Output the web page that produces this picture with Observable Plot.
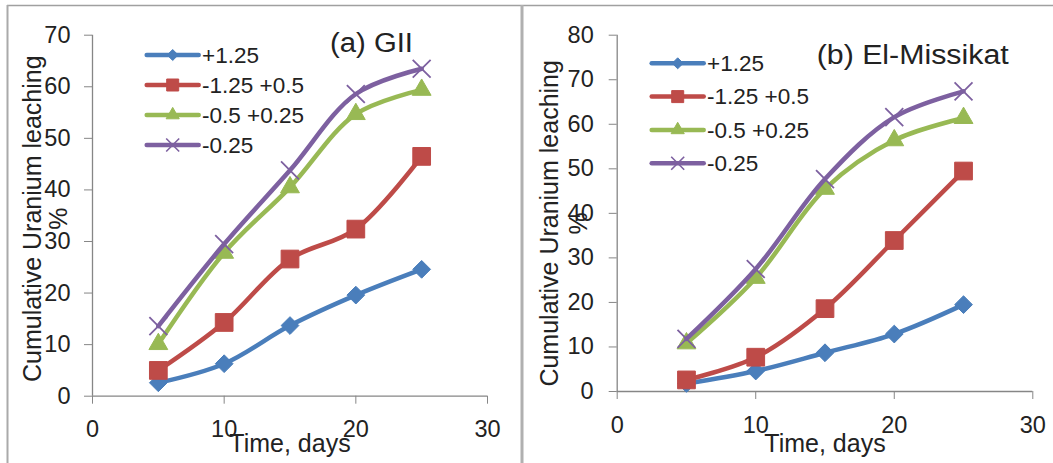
<!DOCTYPE html>
<html><head><meta charset="utf-8">
<script src="https://cdn.jsdelivr.net/npm/d3@7"></script>
<script src="https://cdn.jsdelivr.net/npm/@observablehq/plot@0.6"></script>
<style>
html,body{margin:0;padding:0;background:#fff;}
#root{position:relative;width:1053px;height:463px;overflow:hidden;font-family:"Liberation Sans",Arial,sans-serif;color:#222;background:#fff;}
#root > svg, #root > figure{position:absolute;top:0;margin:0;}
</style></head><body><div id="root"></div>
<script>
// ---- data ----
const days = [5, 10, 15, 20, 25];
const seriesNames = ["+1.25", "-1.25 +0.5", "-0.5 +0.25", "-0.25"];
// (a) GII
const gII_p125    = [2.6, 6.3, 13.7, 19.6, 24.6];
const gII_m125p05 = [5.0, 14.3, 26.6, 32.4, 46.5];
const gII_m05p025 = [10.1, 27.8, 40.5, 54.7, 59.4];
const gII_m025    = [13.6, 29.5, 43.8, 58.6, 63.5];
// (b) El-Missikat
const elm_p125    = [1.8, 4.6, 8.7, 12.9, 19.5];
const elm_m125p05 = [2.6, 7.7, 18.6, 33.9, 49.5];
const elm_m05p025 = [10.8, 25.5, 45.5, 56.4, 61.4];
const elm_m025    = [11.8, 27.5, 47.7, 61.6, 67.4];
const xTicks  = [0, 10, 20, 30];
const yTicksA = [0, 10, 20, 30, 40, 50, 60, 70];
const yTicksB = [0, 10, 20, 30, 40, 50, 60, 70, 80];
const titleA = "(a) GII";
const titleB = "(b) El-Missikat";
const yTitle = "Cumulative Uranium leaching\n%";
const xTitle = "Time, days";

// ---- style ----
const axisColor = "#868686";
const textColor = "#222";
const colors = ["#4A7EBB", "#BE4B48", "#98B954", "#7D60A0"];
const symbols = ["diamond2", "square", "triangle", "times"];
const dotR = [8, 10, 7, 8.2];
const font = "'Liberation Sans', Arial, sans-serif";

const root = document.getElementById("root");

function panel(o) {
  const values = o.values;
  const rows = [];
  seriesNames.forEach((s, i) => values[i].forEach((v, j) => rows.push({series: s, day: days[j], value: v})));
  const marks = [
    Plot.axisY({ticks: o.yTicks, tickSize: 8, tickPadding: o.yPad, stroke: axisColor, fill: textColor, label: null, fontSize: 23.5}),
    Plot.axisX({ticks: xTicks, tickSize: 8, tickPadding: o.xPad, stroke: axisColor, fill: textColor, label: null, fontSize: 23.5}),
    Plot.ruleX([0], {stroke: axisColor, strokeWidth: 1.3}),
    Plot.ruleY([0], {stroke: axisColor, strokeWidth: 1.3}),
    Plot.text([yTitle], {frameAnchor: "left", textAnchor: "middle", lineAnchor: "middle", rotate: -90, text: d => d, dx: o.ylDx, dy: o.ylDy, lineHeight: o.ylLH, fontSize: 25, fill: textColor}),
    Plot.text([xTitle], {frameAnchor: "bottom", textAnchor: "middle", text: d => d, dy: o.xlDy, fontSize: 25, fill: textColor})
  ];
  seriesNames.forEach((s, i) => {
    const d = rows.filter(r => r.series === s);
    marks.push(Plot.line(d, {x: "day", y: "value", stroke: "series", strokeWidth: 4.5, curve: "catmull-rom"}));
    if (symbols[i] === "times") {
      marks.push(Plot.dot(d, {x: "day", y: "value", symbol: symbols[i], r: dotR[i], stroke: "series", fill: "none", strokeWidth: 1.8}));
    } else {
      marks.push(Plot.dot(d, {x: "day", y: "value", symbol: symbols[i], r: dotR[i], stroke: "series", fill: "series", strokeWidth: 1}));
    }
  });
  const svg = Plot.plot({
    width: o.width, height: 463,
    marginLeft: o.ml, marginRight: o.mr, marginTop: o.mt, marginBottom: o.mb,
    x: {domain: [0, 30]},
    y: {domain: [0, o.yTicks[o.yTicks.length - 1]]},
    color: {domain: seriesNames, range: colors},
    style: {fontFamily: font, fontSize: "23.5px", color: textColor, background: "transparent", overflow: "visible"},
    marks
  });
  svg.style.left = o.left + "px";
  root.appendChild(svg);
}

panel({values: [gII_p125, gII_m125p05, gII_m05p025, gII_m025], yTicks: yTicksA,
  left: 0, width: 520, ml: 92, mr: 33, mt: 34.7, mb: 67.3, yPad: 14, xPad: 16,
  ylDx: -47, ylDy: 3, ylLH: 1.04, xlDy: 56});
panel({values: [elm_p125, elm_m125p05, elm_m05p025, elm_m025], yTicks: yTicksB,
  left: 523, width: 530, ml: 93.7, mr: 20.7, mt: 34.7, mb: 72, yPad: 15.5, xPad: 17,
  ylDx: -54, ylDy: 10, ylLH: 1.16, xlDy: 60});

// ---- overlay: frame lines, titles, legends ----
const ov = d3.create("svg").attr("width", 1053).attr("height", 463).style("left", "0px").style("pointer-events", "none");
ov.append("line").attr("x1", 7).attr("x2", 1053).attr("y1", 5.5).attr("y2", 5.5).attr("stroke", "#a0a0a0").attr("stroke-width", 1.5);
ov.append("line").attr("x1", 7.5).attr("x2", 7.5).attr("y1", 5).attr("y2", 463).attr("stroke", "#aaaaaa").attr("stroke-width", 2);
ov.append("line").attr("x1", 522).attr("x2", 522).attr("y1", 5).attr("y2", 463).attr("stroke", "#b0b0b0").attr("stroke-width", 3);

function title(text, x, y, len) {
  ov.append("text").attr("x", x).attr("y", y).attr("font-family", font).attr("font-size", 27)
    .attr("fill", textColor).attr("textLength", len).attr("lengthAdjust", "spacingAndGlyphs").text(text);
}
title(titleA, 330, 51.7, 83);
title(titleB, 816.7, 64, 192);

const legSyms = [
  {type: d3.symbolDiamond2, size: 77},
  {type: d3.symbolSquare, size: 144},
  {type: d3.symbolTriangle, size: 75},
  {type: d3.symbolTimes, size: 112}
];
function legend(x0, y0, step, tx) {
  seriesNames.forEach((s, i) => {
    const y = y0 + i * step;
    const g = ov.append("g");
    g.append("line").attr("x1", x0).attr("x2", x0 + 52).attr("y1", y).attr("y2", y)
      .attr("stroke", colors[i]).attr("stroke-width", 4.5).attr("stroke-linecap", "round");
    const p = g.append("path").attr("d", d3.symbol().type(legSyms[i].type).size(legSyms[i].size)())
      .attr("transform", `translate(${x0 + 26},${y})`);
    if (i === 3) p.attr("fill", "none").attr("stroke", colors[i]).attr("stroke-width", 1.6);
    else p.attr("fill", colors[i]).attr("stroke", colors[i]);
    g.append("text").attr("x", tx).attr("y", y).attr("dy", "0.35em").attr("font-family", font)
      .attr("font-size", 22.5).attr("fill", textColor).text(s);
  });
}
legend(146.7, 55, 30, 202);
legend(651.7, 63.3, 33.3, 707);

root.appendChild(ov.node());
</script>
</body></html>
